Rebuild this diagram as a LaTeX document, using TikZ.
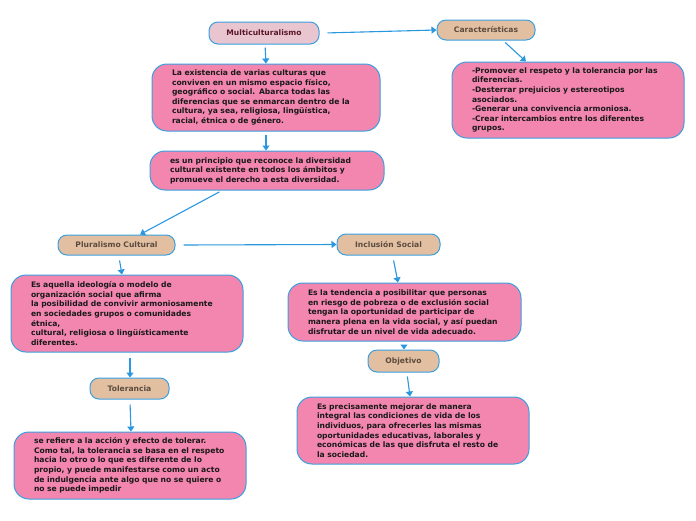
\documentclass[tikz,border=0pt]{standalone}
\usepackage{fontspec}
\setmainfont{DejaVu Sans}
\usetikzlibrary{arrows.meta}
\definecolor{bord}{HTML}{3A9FE0}
\definecolor{pinkbox}{HTML}{F386AE}
\definecolor{lightpink}{HTML}{E9C6CF}
\definecolor{tan}{HTML}{E2BFA1}
\definecolor{maroon}{HTML}{5A1628}
\definecolor{tantext}{HTML}{5B4B3E}
\definecolor{arrowc}{HTML}{2A98DF}
\tikzset{
  bigbox/.style={draw=bord, line width=1pt, fill=pinkbox, rounded corners=15pt,
    inner xsep=20pt, inner ysep=0pt, align=left, text=black!90,
    font=\bfseries\fontsize{7.6}{9.6}\selectfont},
  tagbox/.style={draw=bord, line width=1pt, fill=tan, rounded corners=9pt,
    inner sep=0pt, text=tantext, font=\bfseries\fontsize{7.6}{8}\selectfont},
  arr/.style={draw=arrowc, line width=1.1pt, shorten <=3pt,
    -{Triangle[width=7pt,length=5pt]}}
}
\begin{document}
\begin{tikzpicture}[x=1pt,y=1pt]
\useasboundingbox (0,0) rectangle (696,-520);
\fill[white] (0,0) rectangle (696,-520);
% tags
\node[tagbox, fill=lightpink, text=maroon, minimum width=110pt, minimum height=22pt] (multi) at (264,-33) {Multiculturalismo};
\node[tagbox, minimum width=98pt, minimum height=20pt] (caract) at (486,-30) {Características};
\node[tagbox, minimum width=117pt, minimum height=20pt] (plur) at (116.5,-245) {Pluralismo Cultural};
\node[tagbox, minimum width=103pt, minimum height=21pt] (incl) at (388.5,-244.5) {Inclusión Social};
\node[tagbox, minimum width=71pt, minimum height=22pt] (obj) at (403.5,-361) {Objetivo};
\node[tagbox, minimum width=79pt, minimum height=21pt] (tol) at (129.5,-388.5) {Tolerancia};
% boxes
\node[bigbox, text width=188pt, minimum height=67pt] (box1) at (266,-97.5)
 {La existencia de varias culturas que\\conviven en un mismo espacio físico,\\geográfico o social. Abarca todas las\\diferencias que se enmarcan dentro de la\\cultura, ya sea, religiosa, lingüística,\\racial, étnica o de género.};
\node[bigbox, text width=192pt, minimum height=76pt] (boxc) at (568,-100)
 {-Promover el respeto y la tolerancia por las\\diferencias.\\-Desterrar prejuicios y estereotipos\\asociados.\\-Generar una convivencia armoniosa.\\-Crear intercambios entre los diferentes\\grupos.};
\node[bigbox, text width=194pt, minimum height=39pt] (box2) at (267,-170.5)
 {es un principio que reconoce la diversidad\\cultural existente en todos los ámbitos y\\promueve el derecho a esta diversidad.};
\node[bigbox, text width=192pt, minimum height=77pt] (boxp) at (127,-313.5)
 {Es aquella ideología o modelo de\\organización social que afirma\\la posibilidad de convivir armoniosamente\\en sociedades grupos o comunidades\\étnica,\\cultural, religiosa o lingüísticamente\\diferentes.};
\node[bigbox, text width=193pt, minimum height=58pt] (boxi) at (404.5,-312)
 {Es la tendencia a posibilitar que personas\\en riesgo de pobreza o de exclusión social\\tengan la oportunidad de participar de\\manera plena en la vida social, y así puedan\\disfrutar de un nivel de vida adecuado.};
\node[bigbox, text width=192pt, minimum height=67pt] (boxt) at (130,-465.5)
 {se refiere a la acción y efecto de tolerar.\\Como tal, la tolerancia se basa en el respeto\\hacia lo otro o lo que es diferente de lo\\propio, y puede manifestarse como un acto\\de indulgencia ante algo que no se quiere o\\no se puede impedir};
\node[bigbox, text width=192pt, minimum height=67pt] (boxo) at (413,-430.5)
 {Es precisamente mejorar de manera\\integral las condiciones de vida de los\\individuos, para ofrecerles las mismas\\oportunidades educativas, laborales y\\económicas de las que disfruta el resto de\\la sociedad.};
% arrows
\draw[arr] ([xshift=1pt]multi.south) -- ([xshift=0pt]box1.north);
\draw[arr] ([xshift=5pt]multi.east) -- (caract.west);
\draw[arr] ([xshift=17pt]caract.south) -- ([xshift=-42pt]boxc.north);
\draw[arr] (box1.south) -- ([xshift=-1pt]box2.north);
\draw[arr] ([xshift=-45pt]box2.south) -- ([xshift=23.5pt]plur.north);
\draw[arr] ([xshift=5pt]plur.east) -- (incl.west);
\draw[arr] ([xshift=2.5pt,yshift=-2pt]plur.south) -- ([xshift=-5pt]boxp.north);
\draw[arr] ([xshift=4.5pt,yshift=-2pt]incl.south) -- ([xshift=-6.5pt]boxi.north);
\draw[arr] ([xshift=3pt,yshift=-2pt]boxp.south) -- ([xshift=0.5pt]tol.north);
\draw[arr] ([xshift=-0.5pt]boxi.south) -- ([xshift=0.5pt]obj.north);
\draw[arr] ([xshift=3.5pt,yshift=-1pt]obj.south) -- ([xshift=-3pt]boxo.north);
\draw[arr] ([xshift=0.5pt,yshift=-2pt]tol.south) -- ([xshift=1pt]boxt.north);
\end{tikzpicture}
\end{document}
